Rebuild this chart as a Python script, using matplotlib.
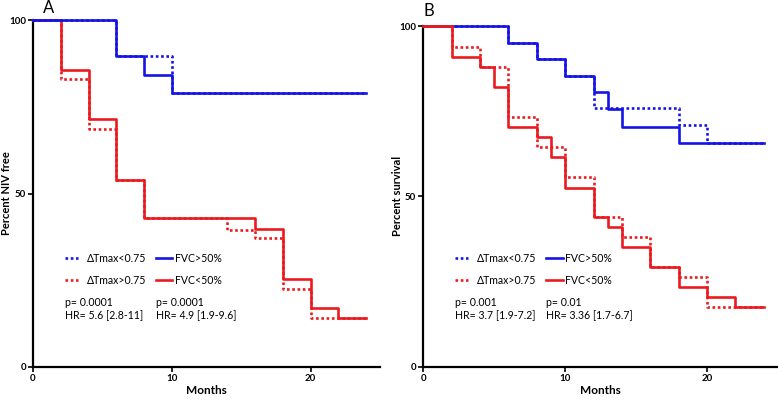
import matplotlib
matplotlib.use("Agg")
import matplotlib.pyplot as plt

plt.rcParams['font.family'] = ['Lato', 'DejaVu Sans']

# ---------------- data ----------------
# Panel A: Percent NIV free
a_fvc_hi_t = [0, 6, 8, 10, 24]
a_fvc_hi_s = [100, 89.5, 84.2, 78.9, 78.9]
a_dt_lo_t = [0, 6, 10, 24]
a_dt_lo_s = [100, 89.5, 78.9, 78.9]
a_fvc_lo_t = [0, 2, 4, 6, 8, 16, 18, 20, 22, 24]
a_fvc_lo_s = [100, 85.7, 71.4, 54.0, 42.9, 39.8, 25.5, 16.9, 14.1, 14.1]
a_dt_hi_t = [0, 2, 4, 6, 8, 14, 16, 18, 20, 24]
a_dt_hi_s = [100, 82.9, 68.5, 54.0, 42.9, 39.6, 37.1, 22.5, 14.1, 14.1]

# Panel B: Percent survival
b_fvc_hi_t = [0, 6, 8, 10, 12, 13, 14, 18, 24]
b_fvc_hi_s = [100, 94.9, 90.2, 85.4, 80.7, 75.6, 70.5, 65.6, 65.6]
b_dt_lo_t = [0, 6, 8, 10, 12, 18, 20, 24]
b_dt_lo_s = [100, 94.9, 90.2, 85.4, 75.8, 70.8, 65.6, 65.6]
b_fvc_lo_t = [0, 2, 4, 5, 6, 8, 9, 10, 12, 13, 14, 16, 18, 20, 22, 24]
b_fvc_lo_s = [100, 90.8, 87.9, 82.0, 70.3, 67.5, 61.6, 52.5, 44.0, 40.9, 35.0,
              29.2, 23.3, 20.4, 17.4, 17.4]
b_dt_hi_t = [0, 2, 4, 6, 8, 10, 12, 14, 16, 18, 20, 24]
b_dt_hi_s = [100, 93.7, 87.9, 73.2, 64.6, 55.6, 44.0, 38.0, 29.2, 26.2, 17.4, 17.4]

legend_labels = ["\u0394Tmax<0.75", "\u0394Tmax>0.75", "FVC>50%", "FVC<50%"]
a_stats = ["p= 0.0001\nHR= 5.6 [2.8-11]", "p= 0.0001\nHR= 4.9 [1.9-9.6]"]
b_stats = ["p= 0.001\nHR= 3.7 [1.9-7.2]", "p= 0.01\nHR= 3.36 [1.7-6.7]"]

x_ticks = [0, 10, 20]
y_ticks = [0, 50, 100]

BLUE = '#1414E6'
RED = '#EB1A1F'
LW = 1.9
DOT = (0, (1, 1))

fig = plt.figure(figsize=(7.78, 4.0), dpi=100)


def make_axes(rect, ylabel, ylab_x, xlab_y):
    ax = fig.add_axes(rect)
    ax.set_xlim(0, 25)
    ax.set_ylim(0, 100)
    for s in ['top', 'right']:
        ax.spines[s].set_visible(False)
    for s in ['left', 'bottom']:
        ax.spines[s].set_linewidth(1.6)
    ax.set_xticks(x_ticks)
    ax.set_yticks(y_ticks)
    ax.tick_params(length=3.5, width=1.2, labelsize=7, pad=1.5)
    for lab in ax.get_xticklabels() + ax.get_yticklabels():
        lab.set_fontweight('bold')
    ax.set_xlabel('Months', fontsize=8.5, fontweight='bold')
    ax.set_ylabel(ylabel, fontsize=8, fontweight='bold')
    ax.yaxis.set_label_coords(ylab_x, 0.5)
    ax.xaxis.set_label_coords(0.5, xlab_y)
    return ax


def legend_block(ax, x_d, x_dt, x_s, x_st, y1, y2, ys, stats):
    dx = 0.037
    ax.plot([x_d, x_d + dx], [y1, y1], color=BLUE, lw=LW, ls=DOT,
            transform=ax.transAxes, clip_on=False)
    ax.plot([x_d, x_d + dx], [y2, y2], color=RED, lw=LW, ls=DOT,
            transform=ax.transAxes, clip_on=False)
    ax.plot([x_s, x_s + 0.048], [y1, y1], color=BLUE, lw=LW,
            transform=ax.transAxes, clip_on=False)
    ax.plot([x_s, x_s + 0.048], [y2, y2], color=RED, lw=LW,
            transform=ax.transAxes, clip_on=False)
    kw = dict(transform=ax.transAxes, fontsize=7.6, va='center', ha='left')
    ax.text(x_dt, y1, legend_labels[0], **kw)
    ax.text(x_dt, y2, legend_labels[1], **kw)
    ax.text(x_st, y1, legend_labels[2], **kw)
    ax.text(x_st, y2, legend_labels[3], **kw)
    ax.text(x_d, ys, stats[0], linespacing=1.25, **kw)
    ax.text(x_s, ys, stats[1], linespacing=1.25, **kw)


# ---------------- Panel A ----------------
axA = make_axes([33 / 778, 1 - 367 / 400, 347 / 778, 347 / 400], 'Percent NIV free',
                -0.06, -0.052)
axA.step(a_dt_hi_t, a_dt_hi_s, where='post', color=RED, lw=LW, ls=DOT, clip_on=False, zorder=2)
axA.step(a_fvc_lo_t, a_fvc_lo_s, where='post', color=RED, lw=LW, clip_on=False, zorder=3)
axA.step(a_dt_lo_t, a_dt_lo_s, where='post', color=BLUE, lw=LW, ls=DOT, clip_on=False, zorder=4)
axA.step(a_fvc_hi_t, a_fvc_hi_s, where='post', color=BLUE, lw=LW, clip_on=False, zorder=5)
legend_block(axA, 0.092, 0.156, 0.354, 0.409, 0.313, 0.250, 0.166, a_stats)
fig.text(49 / 778, 1 - 8 / 400, 'A', fontsize=12, ha='center', va='center')

# ---------------- Panel B ----------------
axB = make_axes([423.3 / 778, 1 - 366.7 / 400, 354.7 / 778, 340.7 / 400], 'Percent survival',
                -0.058, -0.053)
axB.step(b_fvc_hi_t, b_fvc_hi_s, where='post', color=BLUE, lw=LW, clip_on=False, zorder=2)
axB.step(b_dt_lo_t, b_dt_lo_s, where='post', color=BLUE, lw=LW, ls=DOT, clip_on=False, zorder=3)
axB.step(b_fvc_lo_t, b_fvc_lo_s, where='post', color=RED, lw=LW, clip_on=False, zorder=4)
axB.step(b_dt_hi_t, b_dt_hi_s, where='post', color=RED, lw=LW, ls=DOT, clip_on=False, zorder=5)
legend_block(axB, 0.089, 0.151, 0.345, 0.399, 0.318, 0.254, 0.168, b_stats)
fig.text(429 / 778, 1 - 11 / 400, 'B', fontsize=12, ha='center', va='center')

fig.savefig('out.png', dpi=100)
